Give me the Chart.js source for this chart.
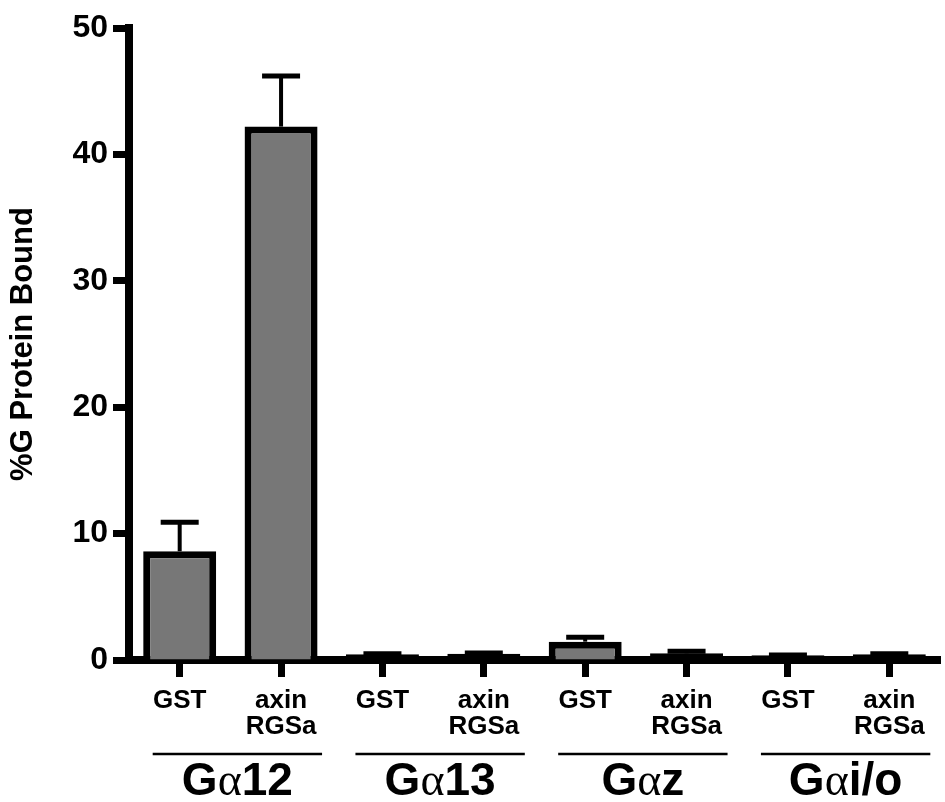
<!DOCTYPE html>
<html>
<head>
<meta charset="utf-8">
<script src="https://cdn.jsdelivr.net/npm/chart.js@4"></script>
<style>
  html, body { margin: 0; padding: 0; background: #fff; }
  #wrap { width: 945px; height: 802px; }
</style>
</head>
<body>
<div id="wrap"><canvas id="chart" width="945" height="802"></canvas></div>
<script>
// categories (two per G protein)
const labels   = ['GST', ['axin', 'RGSa'], 'GST', ['axin', 'RGSa'], 'GST', ['axin', 'RGSa'], 'GST', ['axin', 'RGSa']];
const groups   = ['12', '13', 'z', 'i/o'];          // drawn as G + α + name
const values   = [8.6, 42.2, 0.45, 0.5, 1.45, 0.53, 0.37, 0.45];
const errors   = [2.3, 4.0, 0.05, 0.05, 0.35, 0.17, 0.03, 0.05];
const yTicks   = [0, 10, 20, 30, 40, 50];

const FONT = '"Liberation Sans", Arial, sans-serif';

/* ---------- error bars (upper only) ---------- */
const errorBars = {
    id: 'errorBars',
    afterDatasetsDraw(chart) {
        const { ctx, scales: { y } } = chart;
        const meta = chart.getDatasetMeta(0);
        ctx.save();
        ctx.strokeStyle = '#000';
        meta.data.forEach((bar, i) => {
            const top = y.getPixelForValue(values[i]);
            const hi  = y.getPixelForValue(values[i] + errors[i]);
            ctx.lineWidth = 4;
            ctx.beginPath();
            ctx.moveTo(bar.x, top);
            ctx.lineTo(bar.x, hi);
            ctx.stroke();
            ctx.lineWidth = 5;
            ctx.beginPath();
            ctx.moveTo(bar.x - 19, hi);
            ctx.lineTo(bar.x + 19, hi);
            ctx.stroke();
        });
        ctx.restore();
    }
};

/* ---------- group lines + Gα labels ---------- */
const groupLabels = {
    id: 'groupLabels',
    afterDraw(chart) {
        const { ctx, scales: { x } } = chart;
        ctx.save();
        ctx.fillStyle = '#000';
        ctx.strokeStyle = '#000';
        ctx.textBaseline = 'alphabetic';
        groups.forEach((g, k) => {
            const a = x.getPixelForValue(2 * k);
            const b = x.getPixelForValue(2 * k + 1);
            const x1 = a - 27, x2 = b + 41;
            ctx.lineWidth = 2.5;
            ctx.beginPath();
            ctx.moveTo(x1, 754);
            ctx.lineTo(x2, 754);
            ctx.stroke();

            // G (bold sans) + α (serif) + name (bold sans)
            const fBold  = 'bold 46px ' + FONT;
            const fAlpha = '46px "Liberation Serif", "DejaVu Serif", serif';
            ctx.font = fBold;  const wG = ctx.measureText('G').width, wN = ctx.measureText(g).width;
            ctx.font = fAlpha; const wA = ctx.measureText('α').width;
            let cx = (x1 + x2) / 2 - (wG + wA + wN) / 2;
            const base = 795;
            ctx.font = fBold;  ctx.fillText('G', cx, base); cx += wG;
            ctx.font = fAlpha; ctx.fillText('α', cx, base); cx += wA;
            ctx.font = fBold;  ctx.fillText(g, cx, base);
        });
        ctx.restore();
    }
};

new Chart(document.getElementById('chart'), {
    type: 'bar',
    data: {
        labels,
        datasets: [{
            data: values,
            // very short bars are all border in the original
            backgroundColor: (c) => (c.raw < 0.6 ? '#000' : '#777777'),
            borderColor: '#000',
            borderWidth: 7,
            barPercentage: 0.72,
            categoryPercentage: 1
        }]
    },
    options: {
        responsive: false,
        animation: false,
        layout: { padding: { top: 28, right: 5, left: 0, bottom: 0 } },
        plugins: { legend: { display: false }, tooltip: { enabled: false } },
        scales: {
            x: {
                z: 1,
                afterFit: (s) => { s.height = 142; },
                border: { display: true, color: '#000', width: 8 },
                grid: { display: true, drawOnChartArea: false, offset: false, color: '#000', tickLength: 17, tickWidth: 7 },
                ticks: {
                    color: '#000', padding: 11, maxRotation: 0, autoSkip: false,
                    font: { family: FONT, weight: 'bold', size: 26, lineHeight: 1.0 }
                }
            },
            y: {
                z: 1,
                min: 0, max: 50,
                afterFit: (s) => { s.width = 129; },
                afterBuildTicks: (s) => { s.ticks = yTicks.map(v => ({ value: v })); },
                border: { display: true, color: '#000', width: 8 },
                grid: { display: true, drawOnChartArea: false, color: '#000', tickLength: 16, tickWidth: 7 },
                ticks: {
                    color: '#000', padding: 5,
                    font: { family: FONT, weight: 'bold', size: 32 }
                },
                title: {
                    display: true, text: '%G Protein Bound', color: '#000',
                    padding: { top: 5, bottom: 0 },
                    font: { family: FONT, weight: 'bold', size: 31 }
                }
            }
        }
    },
    plugins: [errorBars, groupLabels]
});
</script>
</body>
</html>
